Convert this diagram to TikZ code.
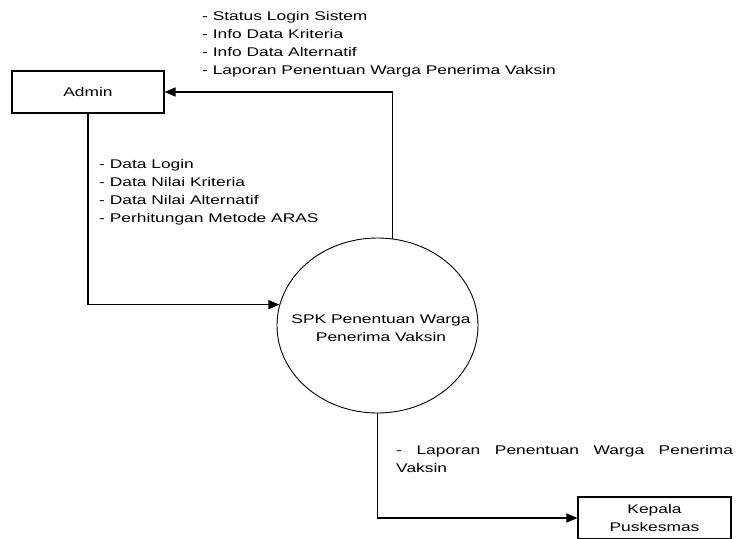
\documentclass[tikz,border=0pt]{standalone}
\usepackage{fontspec}
\setmainfont[FakeStretch=1.38]{Liberation Sans}
\usetikzlibrary{shapes.geometric,arrows.meta}
\tikzset{
  every node/.style={font=\fontsize{12.6}{18}\selectfont},
  entity/.style={draw, line width=1.1pt, rectangle, inner sep=0pt, align=center},
  proc/.style={draw, line width=0.9pt, ellipse, inner sep=0pt, minimum width=201pt, minimum height=175pt},
  flow/.style={line width=1.3pt, -{Triangle[length=11pt,width=9pt]}},
  lbl/.style={inner sep=0pt, anchor=base west, align=left}
}
\begin{document}
\begin{tikzpicture}[x=1pt,y=-1pt]
\useasboundingbox (0,0) rectangle (736,538);
\clip (0,0) rectangle (736,538);
\fill[white] (0,0) rectangle (736,538);
\node[entity, minimum width=152pt, minimum height=42pt] (admin) at (88,92) {Admin};
\node[proc] (spk) at (377.5,325.5) {};
\node[inner sep=0pt, align=center] (spktext) at (381,328) {SPK Penentuan Warga\\Penerima Vaksin};
\node[entity, minimum width=153pt, minimum height=42pt] (kepala) at (654.5,518) {Kepala\\Puskesmas};
\draw[flow] (spk.80) |- (admin.east);
\draw[flow] (admin.south) |- (spk.168);
\draw[flow] (spk.south) |- (kepala.west);
\node[lbl] (t1) at (202,74) {- Status Login Sistem\\- Info Data Kriteria\\- Info Data Alternatif\\- Laporan Penentuan Warga Penerima Vaksin};
\node[lbl] (t2) at (99,222) {- Data Login\\- Data Nilai Kriteria\\- Data Nilai Alternatif\\- Perhitungan Metode ARAS};
\node[lbl] (t3) at (396,472) {\makebox[337pt][s]{- Laporan Penentuan Warga Penerima}\\Vaksin};
\end{tikzpicture}
\end{document}
